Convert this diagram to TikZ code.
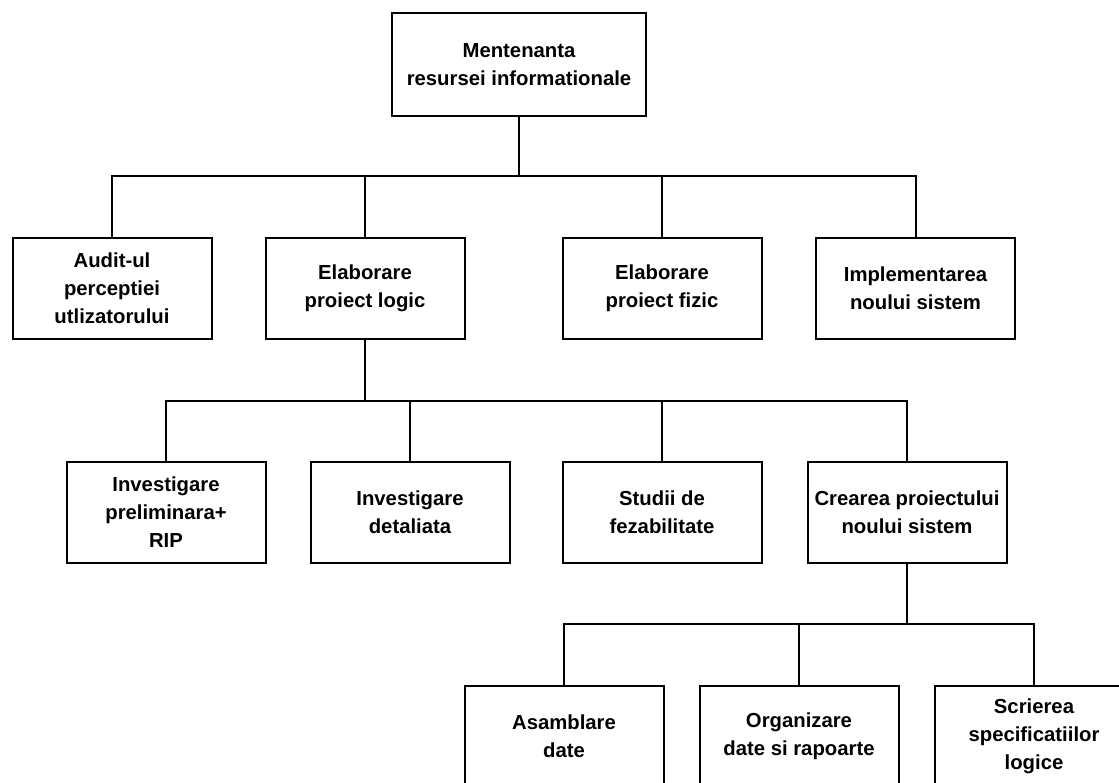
\documentclass[tikz,border=0pt]{standalone}
\usepackage{fontspec}
\setmainfont{Liberation Sans}

\begin{document}
\begin{tikzpicture}[x=1pt, y=-1pt,
    box/.style={draw, line width=2pt, minimum width=199pt, minimum height=101pt,
      align=center, inner sep=2pt, font=\bfseries\fontsize{20.3}{28}\selectfont},
    link/.style={line width=2pt}]
  \useasboundingbox (0,0) rectangle (1119,783);
  % root box
  \node[box, minimum width=254pt, minimum height=103pt] (root) at (519,64.5) {Mentenanta\\resursei informationale};
  % second row
  \node[box] (audit) at (112,288.5) {Audit-ul\\perceptiei\\utlizatorului};
  \node[box] (logic) at (365,288.5) {Elaborare\\proiect logic};
  \node[box] (fizic) at (662,288.5) {Elaborare\\proiect fizic};
  \node[box] (impl) at (915.5,288.5) {Implementarea\\noului sistem};
  % third row
  \node[box] (prelim) at (166,512) {Investigare\\preliminara+\\RIP};
  \node[box] (detal) at (410,512) {Investigare\\detaliata};
  \node[box] (studii) at (662,512) {Studii de\\fezabilitate};
  \node[box] (creare) at (907,512) {Crearea proiectului\\noului sistem};
  % fourth row
  \node[box] (asamb) at (564,736.5) {Asamblare\\date};
  \node[box] (organiz) at (799,736.5) {Organizare\\date si rapoarte};
  \node[box] (scriere) at (1034,736.5) {Scrierea\\specificatiilor\\logice};
  % bus lines
  \coordinate (bus1) at (519,176.5);
  \coordinate (bus2) at (365,401);
  \coordinate (bus3) at (907,624);
  \draw[link] (root.south) -- (bus1);
  \draw[link] (audit.north) |- (bus1) -| (impl.north);
  \draw[link] (logic.north) -- (logic.north |- bus1);
  \draw[link] (fizic.north) -- (fizic.north |- bus1);
  \draw[link] (logic.south) -- (bus2);
  \draw[link] (prelim.north) |- (bus2) -| (creare.north);
  \draw[link] (detal.north) -- (detal.north |- bus2);
  \draw[link] (studii.north) -- (studii.north |- bus2);
  \draw[link] (creare.south) -- (bus3);
  \draw[link] (asamb.north) |- (bus3) -| (scriere.north);
  \draw[link] (organiz.north) -- (organiz.north |- bus3);
\end{tikzpicture}
\end{document}
